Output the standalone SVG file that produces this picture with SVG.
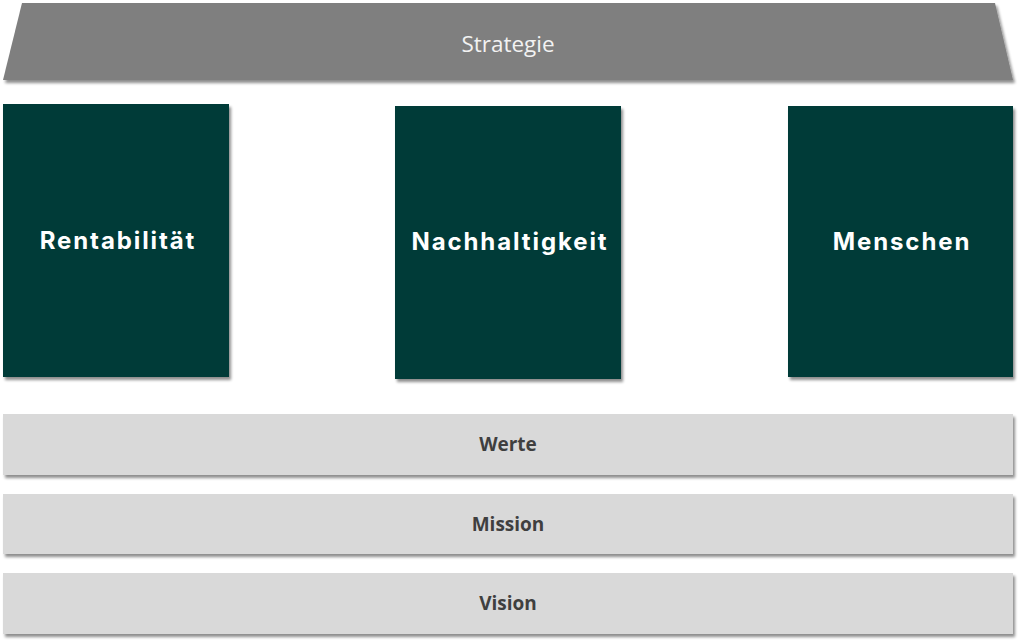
<svg xmlns="http://www.w3.org/2000/svg" width="1024" height="644" viewBox="0 0 1024 644">
<defs>
<filter id="sh" x="-5%" y="-10%" width="115%" height="130%">
<feGaussianBlur in="SourceAlpha" stdDeviation="1.5"/>
<feOffset dx="2" dy="3" result="b"/>
<feComponentTransfer><feFuncA type="linear" slope="0.45"/></feComponentTransfer>
<feMerge><feMergeNode/><feMergeNode in="SourceGraphic"/></feMerge>
</filter>
<style>
.pillar{fill:#013b39;filter:url(#sh)}
.bar{fill:#d9d9d9;filter:url(#sh)}
.pt{font-family:Inter,"Open Sans","Liberation Sans",sans-serif;font-weight:700;font-size:24px;letter-spacing:1.9px;fill:#ffffff;text-anchor:middle}
.bt{font-family:"Open Sans","Liberation Sans",sans-serif;font-weight:700;font-size:19px;fill:#3f3f3f;text-anchor:middle}
.st{font-family:"Open Sans","Liberation Sans",sans-serif;font-size:22.5px;fill:#f2f2f2;text-anchor:middle}
</style>
</defs>
<rect width="1024" height="644" fill="#ffffff"/>
<g id="strategie">
<polygon points="22,3 995,3 1013,80 3,80" fill="#7f7f7f" filter="url(#sh)"/>
<text class="st" x="508" y="52">Strategie</text>
</g>
<g id="rentabilitaet">
<rect class="pillar" x="3" y="104" width="226" height="273"/>
<text class="pt" x="118" y="249">Rentabilität</text>
</g>
<g id="nachhaltigkeit">
<rect class="pillar" x="395" y="106" width="226" height="273"/>
<text class="pt" x="510" y="250">Nachhaltigkeit</text>
</g>
<g id="menschen">
<rect class="pillar" x="788" y="106" width="225" height="271"/>
<text class="pt" x="902" y="250">Menschen</text>
</g>
<g id="werte">
<rect class="bar" x="3" y="414" width="1010" height="61"/>
<text class="bt" x="508" y="451">Werte</text>
</g>
<g id="mission">
<rect class="bar" x="3" y="494" width="1010" height="60"/>
<text class="bt" x="508" y="531">Mission</text>
</g>
<g id="vision">
<rect class="bar" x="3" y="573" width="1010" height="61"/>
<text class="bt" x="508" y="610">Vision</text>
</g>
<g id="connectors"/>
</svg>
